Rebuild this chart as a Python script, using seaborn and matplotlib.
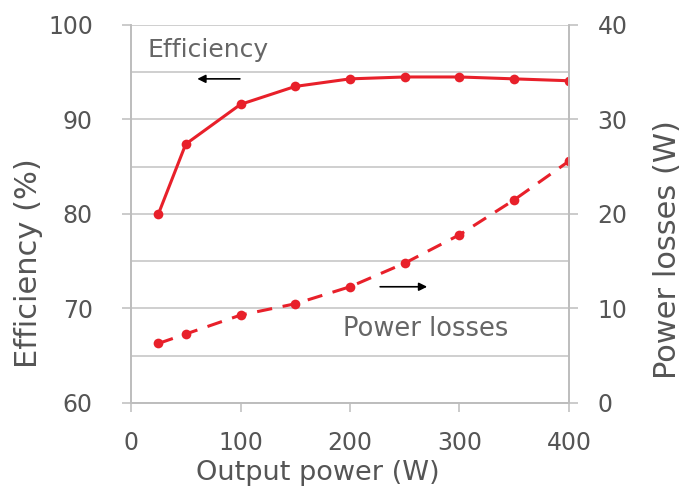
import numpy as np
import pandas as pd
import matplotlib
matplotlib.use("Agg")
import matplotlib.pyplot as plt
import seaborn as sns
from matplotlib.ticker import MultipleLocator

# values
power = [25, 50, 100, 150, 200, 250, 300, 350, 400]
efficiency = [80.0, 87.4, 91.6, 93.5, 94.3, 94.5, 94.5, 94.3, 94.1]
losses = [6.3, 7.3, 9.3, 10.5, 12.3, 14.8, 17.8, 21.5, 25.6]

df = pd.DataFrame({"power": power, "eff": efficiency, "loss": losses})

sns.set_style("white")
plt.rcParams["font.family"] = ["DejaVu Sans"]

red = "#e8202a"
txt = "#555555"
grid = "#cfcfcf"

fig = plt.figure(figsize=(6.95, 4.96), dpi=100)
ax = fig.add_axes([0.1885, 0.1875, 0.8187 - 0.1885, 0.9496 - 0.1875])
ax2 = ax.twinx()

sns.lineplot(data=df, x="power", y="eff", ax=ax, color=red, lw=2.2,
             marker="o", markersize=7, markeredgewidth=0)
sns.lineplot(data=df, x="power", y="loss", ax=ax2, color=red, lw=2.2,
             marker="o", markersize=7, markeredgewidth=0, dashes=False)
ax2.lines[0].set_dashes([5, 3.5])

ax.set_xlim(0, 400)
ax.set_ylim(60, 100)
ax2.set_ylim(0, 40)
ax.xaxis.set_major_locator(MultipleLocator(100))
ax.yaxis.set_major_locator(MultipleLocator(10))
ax.yaxis.set_minor_locator(MultipleLocator(5))
ax2.yaxis.set_major_locator(MultipleLocator(10))

ax.grid(True, axis="y", which="both", color=grid, lw=1.4)
ax.set_axisbelow(True)
ax2.grid(False)

for a in (ax, ax2):
    for s in a.spines.values():
        s.set_color("#bdbdbd")
        s.set_linewidth(1.2)
    a.spines["top"].set_visible(False)

ax.tick_params(axis="y", which="major", direction="out", length=6.5, width=1.1,
               color="#bdbdbd", pad=21, labelsize=17, labelcolor=txt, left=True)
ax.tick_params(axis="y", which="minor", length=0)
ax.tick_params(axis="x", direction="out", length=6.5, width=1.1, color="#bdbdbd",
               pad=14, labelsize=17, labelcolor=txt, bottom=True)
ax2.tick_params(axis="y", direction="out", length=6.5, width=1.1, color="#bdbdbd",
                pad=14, labelsize=17, labelcolor=txt, right=True)

ax.set_xlabel("Output power (W)", fontsize=19.5, color=txt)
ax.set_ylabel("Efficiency (%)", fontsize=22, color=txt)
ax2.set_ylabel("Power losses (W)", fontsize=22, color=txt, rotation=90)
ax.xaxis.label.set_verticalalignment("center")
ax.xaxis.set_label_coords(0.427, -0.186)
ax.yaxis.label.set_verticalalignment("center")
ax.yaxis.set_label_coords(-0.235, 0.37)
ax2.yaxis.label.set_verticalalignment("center")
ax2.yaxis.set_label_coords(1.226, 0.405)

ax.text(15.5, 96.6, "Efficiency", fontsize=18, color="#666666", va="baseline")
ax2.text(194, 7.1, "Power losses", fontsize=18.5, color="#666666", va="baseline")
ax.annotate("", xy=(58, 94.3), xytext=(102, 94.3),
            arrowprops=dict(arrowstyle="-|>", color="black", lw=1.2, mutation_scale=12))
ax2.annotate("", xy=(273, 12.3), xytext=(225, 12.3),
             arrowprops=dict(arrowstyle="-|>", color="black", lw=1.2, mutation_scale=12))

fig.savefig("out.png", dpi=100)
